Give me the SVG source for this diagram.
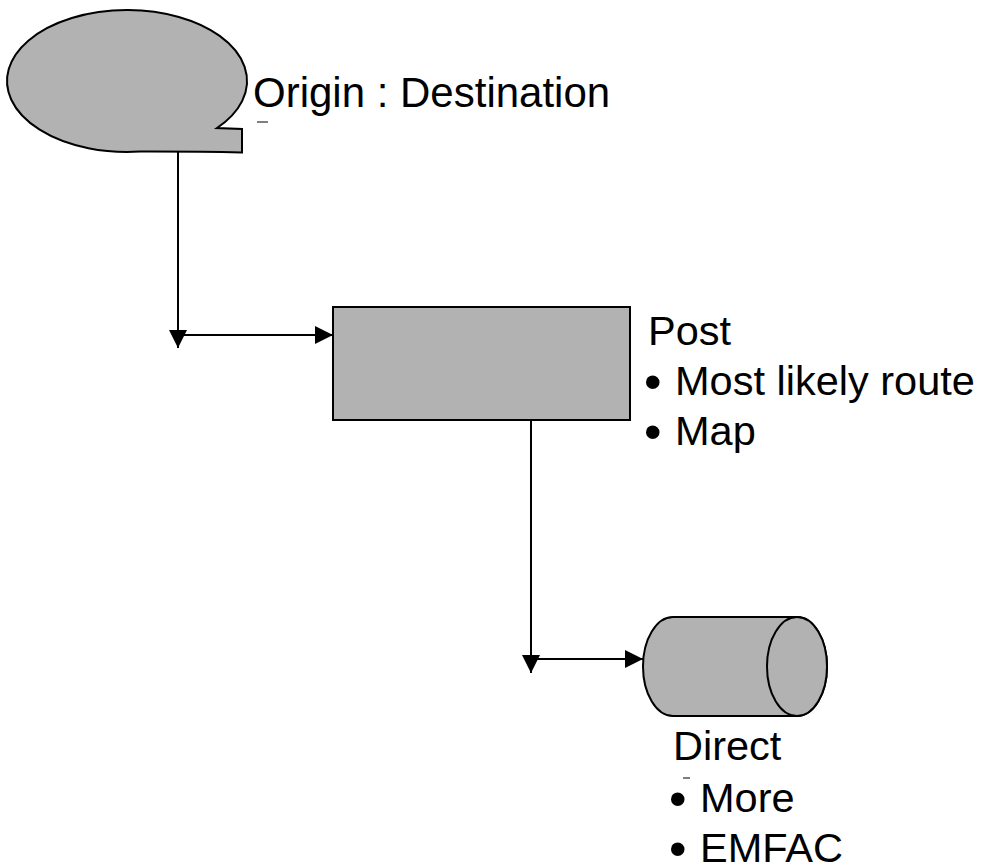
<svg xmlns="http://www.w3.org/2000/svg" width="985" height="867" viewBox="0 0 985 867">
<style>
.shape{fill:#b2b2b2;stroke:#000;stroke-width:2}
.conn{fill:none;stroke:#000;stroke-width:2}
.lbl{font-family:"Liberation Sans",Arial,sans-serif;font-size:41.5px;fill:#000}
.bul{font-family:"Liberation Sans",Arial,sans-serif;font-size:50px;fill:#000}
.art{stroke:#555;stroke-width:1.5}
</style>
<defs>
<marker id="arr" markerUnits="userSpaceOnUse" markerWidth="18" markerHeight="18" viewBox="0 0 17 17" refX="17" refY="8.5" orient="auto">
<path d="M0,0 L17,8.5 L0,17 Z" fill="#000"/>
</marker>
</defs>
<rect width="985" height="867" fill="#fff"/>
<g id="connectors">
<path class="conn" d="M178,152 L178,348" marker-end="url(#arr)"/>
<path class="conn" d="M178,335 L333,335" marker-end="url(#arr)"/>
<path class="conn" d="M531,420 L531,673" marker-end="url(#arr)"/>
<path class="conn" d="M531,659 L643,659" marker-end="url(#arr)"/>
</g>
<g id="origin">
<path class="shape" d="M217,128 A120,71 0 1 0 140,151.6 Q200,151.5 242,152.5 L242,129 Z"/>
<text class="lbl" x="253" y="107" style="font-size:42px">Origin : Destination</text>
<line class="art" x1="257" y1="122" x2="268" y2="122"/>
</g>
<g id="post">
<rect class="shape" x="333" y="307" width="297" height="113"/>
<text class="lbl" x="648" y="345">Post</text>
<text class="bul" x="644" y="399">•</text>
<text class="lbl" x="675" y="395">Most likely route</text>
<text class="bul" x="644" y="449">•</text>
<text class="lbl" x="675" y="445">Map</text>
</g>
<g id="direct">
<path class="shape" d="M673,617 L797,617 A30,49.5 0 0 1 797,716 L673,716 A30,49.5 0 0 1 673,617 Z"/>
<ellipse class="shape" cx="797" cy="666.5" rx="30" ry="49.5"/>
<text class="lbl" x="673" y="760">Direct</text>
<text class="bul" x="669" y="816">•</text>
<text class="lbl" x="700" y="812">More</text>
<text class="bul" x="669" y="866">•</text>
<text class="lbl" x="700" y="862">EMFAC</text>
<line class="art" x1="683" y1="778" x2="690" y2="778"/>
</g>
</svg>
